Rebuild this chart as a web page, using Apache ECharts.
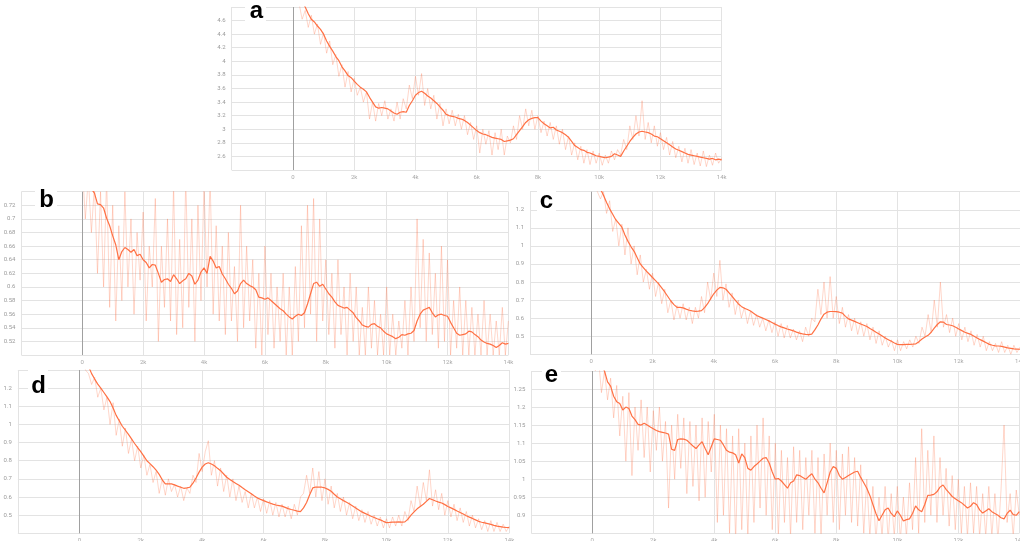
<!DOCTYPE html>
<html>
<head>
<meta charset="utf-8">
<script src="https://cdn.jsdelivr.net/npm/echarts@6/dist/echarts.min.js"></script>
<style>
html,body{margin:0;padding:0;background:#fff;}
#chart{width:1020px;height:541px;}
</style>
</head>
<body>
<div id="chart"></div>
<script>
// x steps: both smoothed and raw every 100 steps (0 .. 14k)
const steps = [];
for (let s = 0; s <= 14000; s += 100) steps.push(s);

const xTickLabels = ['-2k','0','2k','4k','6k','8k','10k','12k','14k'];
const panelLetters = ['a','b','c','d','e'];

// ---- panel a ----
const aSmooth = [
5.1, 5.02, 4.95, 4.88, 4.8, 4.7, 4.62, 4.58, 4.52, 4.47,
4.4, 4.3, 4.22, 4.15, 4.07, 4.01, 3.92, 3.86, 3.79, 3.76,
3.71, 3.66, 3.62, 3.59, 3.55, 3.47, 3.4, 3.33, 3.31, 3.32,
3.31, 3.3, 3.27, 3.24, 3.22, 3.25, 3.26, 3.25, 3.35, 3.42,
3.5, 3.54, 3.56, 3.53, 3.49, 3.46, 3.42, 3.38, 3.33, 3.28,
3.22, 3.2, 3.19, 3.18, 3.16, 3.15, 3.13, 3.1, 3.06, 3.02,
2.98, 2.95, 2.93, 2.92, 2.9, 2.88, 2.87, 2.86, 2.85, 2.82,
2.83, 2.84, 2.86, 2.92, 2.98, 3.04, 3.1, 3.14, 3.16, 3.17,
3.17, 3.12, 3.08, 3.05, 3.02, 3.03, 2.99, 2.97, 2.95, 2.92,
2.88, 2.82, 2.76, 2.73, 2.7, 2.69, 2.66, 2.65, 2.63, 2.61,
2.6, 2.59, 2.58, 2.59, 2.6, 2.64, 2.62, 2.6, 2.68, 2.75,
2.82, 2.88, 2.93, 2.96, 2.97, 2.96, 2.95, 2.93, 2.9, 2.89,
2.86, 2.83, 2.8, 2.77, 2.74, 2.71, 2.69, 2.67, 2.65, 2.63,
2.62, 2.61, 2.6, 2.59, 2.58, 2.57, 2.56, 2.57, 2.55, 2.56,
2.55];
const aRaw = [
5.2, 5.0, 4.85, 4.62, 4.75, 4.5, 4.68, 4.4, 4.55, 4.25,
4.42, 4.12, 4.3, 3.95, 4.1, 3.78, 3.95, 3.62, 3.85, 3.55,
3.75, 3.5, 3.62, 3.4, 3.55, 3.15, 3.4, 3.12, 3.38, 3.2,
3.42, 3.15, 3.3, 3.12, 3.4, 3.15, 3.45, 3.3, 3.65, 3.45,
3.78, 3.5, 3.82, 3.35, 3.6, 3.3, 3.5, 3.15, 3.38, 3.05,
3.3, 3.08, 3.28, 3.05, 3.22, 3.0, 3.2, 2.92, 3.1, 2.85,
3.05, 2.65, 3.0, 2.78, 2.98, 2.62, 2.95, 2.7, 3.0, 2.62,
2.9, 2.8, 3.05, 2.85, 3.2, 3.0, 3.3, 3.05, 3.28, 3.0,
3.2, 2.95, 3.12, 2.9, 3.1, 2.85, 3.05, 2.78, 3.0, 2.7,
2.9, 2.62, 2.8, 2.55, 2.75, 2.5, 2.7, 2.48, 2.68, 2.5,
2.65, 2.47, 2.62, 2.5, 2.68, 2.55, 2.7, 2.62, 2.85, 2.7,
3.05, 2.85, 3.2, 2.9, 3.42, 2.85, 3.1, 2.8, 3.05, 2.75,
2.95, 2.7, 2.88, 2.62, 2.82, 2.58, 2.75, 2.52, 2.72, 2.5,
2.7, 2.48, 2.65, 2.46, 2.68, 2.45, 2.62, 2.47, 2.65, 2.5,
2.58];

// ---- panel b ----
const bSmooth = [
0.76, 0.755, 0.75, 0.744, 0.738, 0.722, 0.721, 0.716, 0.701, 0.69,
0.675, 0.662, 0.64, 0.652, 0.658, 0.655, 0.651, 0.655, 0.646, 0.648,
0.64, 0.636, 0.628, 0.633, 0.632, 0.62, 0.607, 0.611, 0.612, 0.608,
0.618, 0.612, 0.605, 0.609, 0.612, 0.62, 0.616, 0.604, 0.61, 0.622,
0.628, 0.62, 0.645, 0.638, 0.628, 0.63, 0.619, 0.612, 0.604, 0.598,
0.59, 0.594, 0.605, 0.61, 0.605, 0.602, 0.6, 0.596, 0.585, 0.584,
0.582, 0.584, 0.58, 0.576, 0.572, 0.568, 0.565, 0.56, 0.556, 0.553,
0.557, 0.56, 0.558, 0.562, 0.575, 0.59, 0.605, 0.607, 0.601, 0.604,
0.597, 0.59, 0.585, 0.578, 0.573, 0.571, 0.569, 0.57, 0.566, 0.562,
0.555, 0.55, 0.544, 0.542, 0.541, 0.545, 0.546, 0.542, 0.54, 0.535,
0.531, 0.529, 0.527, 0.524, 0.526, 0.53, 0.529, 0.531, 0.532, 0.536,
0.55, 0.56, 0.566, 0.568, 0.57, 0.562, 0.556, 0.559, 0.56, 0.558,
0.557, 0.548, 0.54, 0.532, 0.529, 0.53, 0.531, 0.535, 0.534, 0.53,
0.527, 0.522, 0.519, 0.517, 0.516, 0.514, 0.511, 0.514, 0.518, 0.516,
0.517];
const bRaw = [
0.78, 0.7, 0.76, 0.68, 0.75, 0.62, 0.74, 0.6, 0.76, 0.57,
0.72, 0.55, 0.69, 0.58, 0.74, 0.6, 0.7, 0.56, 0.68, 0.61,
0.71, 0.55, 0.66, 0.6, 0.73, 0.52, 0.66, 0.57, 0.7, 0.55,
0.75, 0.53, 0.67, 0.54, 0.76, 0.57, 0.7, 0.52, 0.72, 0.58,
0.75, 0.6, 0.76, 0.56, 0.69, 0.55, 0.66, 0.53, 0.68, 0.55,
0.63, 0.52, 0.72, 0.54, 0.66, 0.55, 0.64, 0.51, 0.62, 0.5,
0.66, 0.53, 0.62, 0.51, 0.6, 0.52, 0.62, 0.5, 0.6, 0.5,
0.63, 0.52, 0.69, 0.54, 0.72, 0.56, 0.73, 0.52, 0.7, 0.55,
0.64, 0.53, 0.62, 0.51, 0.64, 0.53, 0.6, 0.5, 0.62, 0.52,
0.6, 0.5, 0.57, 0.5, 0.6, 0.51, 0.58, 0.5, 0.56, 0.5,
0.6, 0.5, 0.56, 0.5, 0.55, 0.51, 0.58, 0.5, 0.6, 0.52,
0.7, 0.54, 0.67, 0.52, 0.65, 0.53, 0.62, 0.51, 0.66, 0.52,
0.64, 0.5, 0.58, 0.51, 0.6, 0.5, 0.58, 0.5, 0.57, 0.5,
0.56, 0.5, 0.58, 0.5, 0.56, 0.5, 0.55, 0.5, 0.57, 0.5,
0.55];

// ---- panel c ----
const cSmooth = [
1.42, 1.385, 1.35, 1.315, 1.28, 1.24, 1.205, 1.175, 1.145, 1.125,
1.104, 1.06, 1.025, 0.995, 0.97, 0.935, 0.9, 0.88, 0.86, 0.843,
0.825, 0.808, 0.79, 0.768, 0.745, 0.72, 0.695, 0.675, 0.66, 0.66,
0.657, 0.65, 0.644, 0.64, 0.638, 0.639, 0.642, 0.658, 0.68, 0.708,
0.735, 0.755, 0.77, 0.768, 0.76, 0.74, 0.72, 0.7, 0.68, 0.665,
0.655, 0.648, 0.64, 0.627, 0.615, 0.607, 0.6, 0.593, 0.585, 0.576,
0.567, 0.559, 0.552, 0.546, 0.54, 0.535, 0.53, 0.523, 0.517, 0.513,
0.51, 0.509, 0.512, 0.535, 0.562, 0.595, 0.622, 0.633, 0.637, 0.637,
0.636, 0.633, 0.628, 0.61, 0.596, 0.589, 0.582, 0.575, 0.568, 0.561,
0.554, 0.543, 0.533, 0.522, 0.512, 0.501, 0.49, 0.481, 0.472, 0.463,
0.455, 0.454, 0.454, 0.455, 0.455, 0.456, 0.458, 0.47, 0.485, 0.496,
0.505, 0.522, 0.545, 0.565, 0.58, 0.578, 0.565, 0.562, 0.558, 0.55,
0.54, 0.531, 0.522, 0.516, 0.51, 0.5, 0.49, 0.481, 0.473, 0.464,
0.455, 0.45, 0.447, 0.446, 0.444, 0.44, 0.436, 0.433, 0.43, 0.429,
0.428];
const cRaw = [
1.45, 1.38, 1.3, 1.26, 1.3, 1.18, 1.25, 1.08, 1.15, 1.0,
1.12, 0.95, 1.1, 0.9, 1.0, 0.84, 0.95, 0.8, 0.87, 0.76,
0.85, 0.72, 0.8, 0.68, 0.76, 0.63, 0.7, 0.59, 0.67, 0.6,
0.68, 0.59, 0.66, 0.57, 0.66, 0.6, 0.72, 0.63, 0.8, 0.7,
0.85, 0.72, 0.92, 0.7, 0.79, 0.66, 0.74, 0.62, 0.7, 0.6,
0.66, 0.57, 0.64, 0.56, 0.62, 0.55, 0.6, 0.53, 0.59, 0.52,
0.58, 0.5, 0.57, 0.49, 0.56, 0.49, 0.54, 0.48, 0.53, 0.47,
0.55, 0.5, 0.6, 0.58, 0.76, 0.62, 0.8, 0.6, 0.83, 0.6,
0.72, 0.57, 0.66, 0.55, 0.62, 0.53, 0.6, 0.51, 0.58, 0.5,
0.57, 0.48, 0.55, 0.46, 0.53, 0.45, 0.5, 0.44, 0.48, 0.42,
0.48, 0.42, 0.47, 0.43, 0.48, 0.44, 0.5, 0.46, 0.55, 0.5,
0.62, 0.52, 0.7, 0.55, 0.8, 0.55, 0.62, 0.52, 0.6, 0.5,
0.57, 0.48, 0.55, 0.47, 0.53, 0.45, 0.51, 0.44, 0.5, 0.42,
0.47, 0.42, 0.46, 0.41, 0.47, 0.41, 0.45, 0.4, 0.45, 0.41,
0.44];

// ---- panel d ----
const dSmooth = [
1.42, 1.39, 1.36, 1.32, 1.28, 1.25, 1.222, 1.2, 1.176, 1.152,
1.126, 1.09, 1.05, 1.02, 0.99, 0.968, 0.945, 0.92, 0.895, 0.872,
0.85, 0.825, 0.8, 0.784, 0.767, 0.748, 0.725, 0.695, 0.672, 0.673,
0.672, 0.667, 0.66, 0.654, 0.648, 0.65, 0.654, 0.676, 0.705, 0.737,
0.765, 0.782, 0.789, 0.782, 0.772, 0.758, 0.745, 0.727, 0.709, 0.697,
0.685, 0.675, 0.665, 0.652, 0.64, 0.629, 0.618, 0.606, 0.595, 0.587,
0.58, 0.573, 0.567, 0.561, 0.556, 0.553, 0.55, 0.543, 0.536, 0.531,
0.527, 0.522, 0.519, 0.54, 0.57, 0.612, 0.65, 0.655, 0.655, 0.654,
0.65, 0.642, 0.632, 0.615, 0.6, 0.59, 0.58, 0.571, 0.562, 0.551,
0.54, 0.529, 0.518, 0.51, 0.502, 0.494, 0.487, 0.48, 0.474, 0.466,
0.459, 0.46, 0.462, 0.462, 0.463, 0.462, 0.463, 0.478, 0.5, 0.518,
0.535, 0.548, 0.56, 0.576, 0.592, 0.585, 0.578, 0.572, 0.567, 0.558,
0.548, 0.54, 0.532, 0.523, 0.515, 0.506, 0.497, 0.489, 0.482, 0.474,
0.466, 0.461, 0.457, 0.453, 0.449, 0.444, 0.44, 0.437, 0.434, 0.432,
0.431];
const dRaw = [
1.45, 1.4, 1.3, 1.28, 1.22, 1.26, 1.15, 1.2, 1.08, 1.15,
1.0, 1.12, 0.94, 1.03, 0.88, 0.98, 0.84, 0.92, 0.8, 0.88,
0.76, 0.83, 0.72, 0.78, 0.68, 0.74, 0.62, 0.7, 0.61, 0.7,
0.63, 0.67, 0.6, 0.66, 0.58, 0.65, 0.62, 0.72, 0.68, 0.84,
0.74, 0.85, 0.91, 0.72, 0.8, 0.66, 0.76, 0.63, 0.72, 0.6,
0.7, 0.58, 0.66, 0.57, 0.63, 0.54, 0.62, 0.54, 0.6, 0.52,
0.59, 0.51, 0.58, 0.5, 0.57, 0.49, 0.56, 0.49, 0.55, 0.48,
0.56, 0.5, 0.6, 0.62, 0.72, 0.62, 0.76, 0.6, 0.74, 0.58,
0.7, 0.56, 0.66, 0.54, 0.62, 0.52, 0.6, 0.5, 0.57, 0.48,
0.55, 0.47, 0.53, 0.46, 0.52, 0.45, 0.5, 0.44, 0.49, 0.43,
0.48, 0.43, 0.49, 0.44, 0.5, 0.44, 0.52, 0.47, 0.58, 0.52,
0.66, 0.55, 0.68, 0.58, 0.75, 0.55, 0.64, 0.53, 0.62, 0.5,
0.58, 0.49, 0.56, 0.47, 0.54, 0.46, 0.52, 0.44, 0.5, 0.43,
0.48, 0.42, 0.47, 0.41, 0.47, 0.41, 0.46, 0.41, 0.45, 0.41,
0.44];

// ---- panel e ----
const eSmooth = [
1.36, 1.345, 1.33, 1.315, 1.3, 1.27, 1.258, 1.23, 1.215, 1.21,
1.192, 1.2, 1.196, 1.175, 1.165, 1.152, 1.15, 1.155, 1.15, 1.145,
1.14, 1.135, 1.132, 1.13, 1.128, 1.125, 1.083, 1.08, 1.11, 1.112,
1.111, 1.108, 1.1, 1.092, 1.085, 1.095, 1.104, 1.085, 1.068, 1.09,
1.112, 1.11, 1.108, 1.095, 1.08, 1.075, 1.073, 1.068, 1.045, 1.07,
1.06, 1.03, 1.025, 1.035, 1.042, 1.05, 1.058, 1.06, 1.045, 1.02,
1.0, 1.002, 0.995, 0.985, 0.975, 0.99, 0.995, 1.012, 1.01, 1.005,
1.0, 1.008, 1.015, 1.0, 0.99, 0.975, 0.962, 0.99, 1.02, 1.035,
1.03, 1.01, 1.0, 1.005, 1.01, 1.015, 1.02, 1.022, 1.005, 0.99,
0.975, 0.955, 0.93, 0.905, 0.885, 0.9, 0.915, 0.92, 0.905, 0.896,
0.912, 0.9, 0.884, 0.888, 0.89, 0.905, 0.926, 0.915, 0.91, 0.93,
0.955, 0.956, 0.958, 0.965, 0.978, 0.984, 0.972, 0.962, 0.952, 0.946,
0.94, 0.935, 0.928, 0.92, 0.925, 0.935, 0.93, 0.915, 0.906, 0.912,
0.918, 0.91, 0.905, 0.9, 0.893, 0.89, 0.905, 0.914, 0.902, 0.9,
0.91];
const eRaw = [
1.38, 1.3, 1.34, 1.24, 1.3, 1.22, 1.28, 1.17, 1.26, 1.12,
1.23, 1.05, 1.24, 1.01, 1.2, 1.08, 1.22, 1.06, 1.2, 1.02,
1.19, 1.08, 1.2, 1.05, 1.16, 0.92, 1.15, 1.0, 1.18, 1.03,
1.17, 0.96, 1.16, 0.98, 1.15, 0.94, 1.17, 0.95, 1.16, 1.02,
1.18, 0.88, 1.15, 0.9, 1.14, 0.85, 1.12, 0.83, 1.14, 0.86,
1.1, 0.84, 1.12, 0.88, 1.15, 0.92, 1.17, 0.9, 1.12, 0.86,
1.1, 0.84, 1.08, 0.88, 1.06, 0.84, 1.09, 0.88, 1.08, 0.86,
1.06, 0.9, 1.08, 0.85, 1.06, 0.84, 1.07, 0.9, 1.1, 0.88,
1.08, 0.86, 1.07, 0.9, 1.09, 0.88, 1.06, 0.87, 1.04, 0.85,
1.0, 0.84, 0.98, 0.83, 0.95, 0.84, 0.98, 0.83, 0.96, 0.84,
0.98, 0.83, 0.95, 0.84, 0.99, 0.86, 1.06, 0.85, 1.14, 0.88,
1.08, 0.9, 1.12, 0.88, 1.06, 0.9, 1.03, 0.87, 1.01, 0.86,
1.0, 0.85, 0.98, 0.84, 0.99, 0.85, 0.98, 0.84, 0.96, 0.84,
0.98, 0.84, 0.96, 0.83, 0.97, 1.15, 0.88, 0.96, 0.84, 0.97,
0.9];

// y-axis ranges per panel
const yMin = [2.4, 0.5, 0.4, 0.4, 0.85];
const yMax = [4.8, 0.74, 1.3, 1.3, 1.3];
const yStep = [0.2, 0.02, 0.1, 0.1, 0.05];
const smoothAll = [aSmooth, bSmooth, cSmooth, dSmooth, eSmooth];
const rawAll = [aRaw, bRaw, cRaw, dRaw, eRaw];

// layout (pixels)
const grids = [
  {left: 231.7, top: 7,     width: 490,   height: 163},
  {left: 21.4,  top: 191.7, width: 487,   height: 163.3},
  {left: 530,   top: 191.7, width: 490,   height: 162.6},
  {left: 17.9,  top: 370,   width: 491.4, height: 163.3},
  {left: 531.3, top: 371,   width: 488,   height: 162.3}
];
const letterPos = [
  {x: 256.5, y: 11, box: [245, 0, 21, 23]},
  {x: 46.5, y: 200, box: [35, 186, 22, 26]},
  {x: 546.5, y: 201, box: [537, 186, 19, 26]},
  {x: 38.5, y: 386, box: [28, 366, 20, 32]},
  {x: 551.5, y: 375, box: [542, 366, 19, 22]}
];

const SMOOTH_COLOR = '#ff7043';
const RAW_COLOR = 'rgba(255,112,67,0.28)';
const GRID_COLOR = '#e3e3e3';
const ZERO_COLOR = '#a0a0a0';

const pairs = (xs, ys) => xs.map((x, i) => [x, ys[i]]);

const option = {
  animation: false,
  backgroundColor: '#ffffff',
  grid: [], xAxis: [], yAxis: [], series: [], graphic: []
};

for (let i = 0; i < 5; i++) {
  option.grid.push(Object.assign({outerBoundsMode: 'none', containLabel: false}, grids[i]));
  const xColors = xTickLabels.map(l => l === '0' ? ZERO_COLOR : GRID_COLOR);
  option.xAxis.push({
    type: 'value', gridIndex: i, min: -2000, max: 14000, interval: 2000,
    axisLine: {show: false}, axisTick: {show: false},
    splitLine: {show: true, lineStyle: {color: xColors, width: 1}},
    axisLabel: {
      showMinLabel: false, fontSize: 6, color: '#aaaaaa', margin: 4,
      fontFamily: 'Roboto',
      formatter: v => xTickLabels[Math.round((v + 2000) / 2000)]
    }
  });
  option.yAxis.push({
    type: 'value', gridIndex: i, min: yMin[i], max: yMax[i], interval: yStep[i],
    axisLine: {show: false}, axisTick: {show: false},
    splitLine: {show: true, lineStyle: {color: GRID_COLOR, width: 1}},
    axisLabel: {
      showMinLabel: false, showMaxLabel: false, fontSize: 6, color: '#9a9a9a',
      margin: 6, fontFamily: 'Roboto'
    }
  });
  option.series.push({
    type: 'line', xAxisIndex: i, yAxisIndex: i, showSymbol: false, clip: true,
    data: pairs(steps, rawAll[i]),
    lineStyle: {color: RAW_COLOR, width: 1}, z: 2, silent: true
  });
  option.series.push({
    type: 'line', xAxisIndex: i, yAxisIndex: i, showSymbol: false, clip: true,
    data: pairs(steps, smoothAll[i]),
    lineStyle: {color: SMOOTH_COLOR, width: 1.2}, z: 3, silent: true
  });
  const lp = letterPos[i];
  option.graphic.push({
    type: 'rect', z: 100,
    shape: {x: lp.box[0], y: lp.box[1], width: lp.box[2], height: lp.box[3]},
    style: {fill: '#ffffff'}
  });
  option.graphic.push({
    type: 'text', z: 101, x: lp.x, y: lp.y,
    style: {
      text: panelLetters[i], fill: '#000000',
      font: 'bold 24px "Liberation Sans", Arial, sans-serif',
      textAlign: 'center', textVerticalAlign: 'middle'
    }
  });
}

const chart = echarts.init(document.getElementById('chart'), null, {renderer: 'canvas'});
chart.setOption(option);
</script>
</body>
</html>
